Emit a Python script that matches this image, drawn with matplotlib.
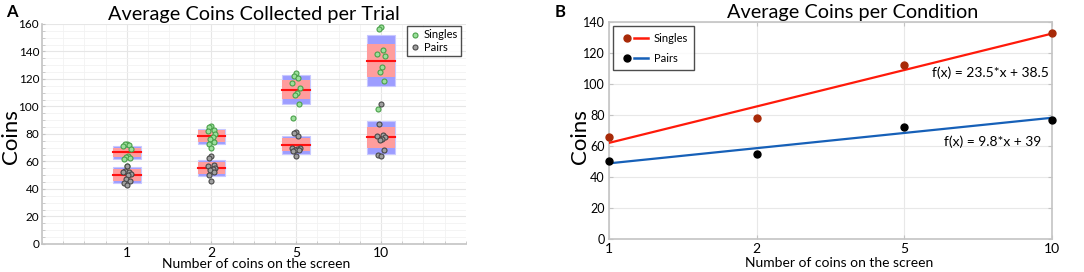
import matplotlib
matplotlib.use("Agg")
import matplotlib.pyplot as plt
from matplotlib.lines import Line2D
from matplotlib.legend_handler import HandlerTuple
from matplotlib.ticker import MultipleLocator
import numpy as np

plt.rcParams['font.family'] = ['Lato', 'DejaVu Sans']

# ---- data: panel A (trial values per condition) ----
conditions = ['1', '2', '5', '10']
singles_trials = [
    [73, 72.5, 72, 71, 69, 64, 63, 62.5, 62, 57],
    [86, 85, 83, 82, 80, 78, 76, 74, 73, 69.5],
    [124.5, 122.5, 121, 117, 113.5, 110, 108.5, 101.5, 91.5],
    [157.5, 156, 141, 138, 137, 128.5, 125, 118.5, 98],
]
pairs_trials = [
    [57, 53, 52.5, 52, 51, 50, 47, 45.5, 44.5, 43],
    [64, 62.5, 57.5, 57, 55.5, 54.5, 53.5, 52, 50, 45.5],
    [81.5, 80.5, 78.5, 70, 69.5, 69, 68.5, 68, 67.5, 64],
    [102, 87.5, 79.5, 78.5, 78, 76.5, 75.5, 68.5, 65, 64],
]
# box summaries: mean, SD half-height, 95% CI half-height
singles_mean = [66.7, 78.3, 112.2, 133.3]
singles_sd = [4.85, 5.45, 10.7, 18.6]
singles_ci = [3.35, 4.25, 6.9, 11.9]
pairs_mean = [50.4, 55.1, 72.2, 77.5]
pairs_sd = [5.7, 5.65, 6.45, 11.85]
pairs_ci = [4.25, 4.25, 4.95, 7.5]

# ---- data: panel B (condition averages + linear fits) ----
singles_avg = [66, 78, 112, 133]
pairs_avg = [50, 55, 72, 77]
singles_fit = (23.5, 38.5)
pairs_fit = (9.8, 39)

fig = plt.figure(figsize=(10.84, 2.72), dpi=100)
axA = fig.add_axes([0.0387, 0.103, 0.391, 0.809])
axB = fig.add_axes([0.5618, 0.1213, 0.4087, 0.798])

spine_col = '#c4c4c4'
box_w = 0.33
jit = [0.0, -0.025, 0.025, -0.045, 0.045, 0.012, -0.012, 0.035, -0.035, 0.0]

pos = np.arange(1, len(conditions) + 1)
for i, p in enumerate(pos):
    for mean, sd, ci, pts, fc, ec in [
        (singles_mean[i], singles_sd[i], singles_ci[i], singles_trials[i], '#9be09b', '#4aa04a'),
        (pairs_mean[i], pairs_sd[i], pairs_ci[i], pairs_trials[i], '#a0a0a0', '#484848'),
    ]:
        axA.bar(p, 2 * sd, bottom=mean - sd, width=box_w, color='#9d9dff',
                edgecolor='#c8c8ff', linewidth=0.8, zorder=2)
        axA.bar(p, 2 * ci, bottom=mean - ci, width=box_w, color='#ff9d9d',
                linewidth=0, zorder=3)
        axA.plot([p - box_w / 2, p + box_w / 2], [mean, mean], color='#ff1010',
                 lw=1.5, zorder=4)
        xs = [p + jit[k % len(jit)] for k in range(len(pts))]
        axA.plot(xs, pts, 'o', ms=3.6, mfc=fc, mec=ec, mew=0.8, zorder=5)

h_s = Line2D([], [], ls='none', marker='o', ms=3.6, mfc='#9be09b', mec='#4aa04a', mew=0.8)
h_p = Line2D([], [], ls='none', marker='o', ms=3.6, mfc='#a0a0a0', mec='#484848', mew=0.8)
legA = axA.legend([h_s, h_p], ['Singles', 'Pairs'], loc='upper right',
                  bbox_to_anchor=(0.995, 1.0), fontsize=8, frameon=True, fancybox=False,
                  handlelength=0.8, handletextpad=0.4, borderpad=0.3, labelspacing=0.15,
                  borderaxespad=0.2)
legA.get_frame().set_edgecolor('#202020')
legA.get_frame().set_linewidth(1.0)

axA.set_xlim(0, 5)
axA.set_ylim(0, 160)
axA.set_xticks(pos)
axA.set_xticklabels(conditions, fontsize=10)
axA.yaxis.set_major_locator(MultipleLocator(20))
axA.yaxis.set_minor_locator(MultipleLocator(5))
axA.xaxis.set_minor_locator(MultipleLocator(0.25))
axA.tick_params(axis='y', labelsize=8.5)
axA.tick_params(which='both', direction='in', length=2, color=spine_col, pad=2)
axA.grid(which='major', color='#e6e6e6', lw=0.8)
axA.grid(which='minor', color='#f2f2f2', lw=0.6)
axA.set_axisbelow(True)
for s in ['top', 'right']:
    axA.spines[s].set_visible(False)
for s in ['left', 'bottom']:
    axA.spines[s].set_color(spine_col)
    axA.spines[s].set_linewidth(1.2)
axA.set_title('Average Coins Collected per Trial', fontsize=14.3, pad=3)
axA.set_ylabel('Coins', fontsize=16)
axA.yaxis.set_label_coords(-0.05, 0.486)
axA.set_xlabel('Number of coins on the screen', fontsize=10)
axA.xaxis.set_label_coords(0.505, -0.062)

# ---- panel B ----
xb = np.arange(1, len(conditions) + 1)
fit_s = [singles_fit[0] * x + singles_fit[1] for x in xb]
fit_p = [pairs_fit[0] * x + pairs_fit[1] for x in xb]
axB.plot(xb, fit_s, color='#ff1a0a', lw=1.6, zorder=3)
axB.plot(xb, fit_p, color='#1660b8', lw=1.6, zorder=3)
axB.plot(xb, singles_avg, 'o', color='#a82a08', ms=5, zorder=4, clip_on=False)
axB.plot(xb, pairs_avg, 'o', color='black', ms=5, zorder=4, clip_on=False)

axB.text(3.19, 107, 'f(x) = %g*x + %g' % singles_fit, fontsize=10, va='center')
axB.text(3.27, 62.5, 'f(x) = %g*x + %g' % pairs_fit, fontsize=10, va='center')

hs_dot = Line2D([], [], ls='none', marker='o', color='#a82a08', ms=5)
hs_line = Line2D([], [], color='#ff1a0a', lw=1.8)
hp_dot = Line2D([], [], ls='none', marker='o', color='black', ms=5)
hp_line = Line2D([], [], color='#1660b8', lw=1.8)
legB = axB.legend([(hs_dot, hs_line), (hp_dot, hp_line)], ['Singles', 'Pairs'],
                  handler_map={tuple: HandlerTuple(ndivide=None, pad=0)},
                  loc='upper left', fontsize=8, fancybox=False, frameon=True,
                  handlelength=2.6, handletextpad=0.5, borderpad=0.55, labelspacing=0.85,
                  borderaxespad=0.4)
legB.get_frame().set_edgecolor('#202020')
legB.get_frame().set_linewidth(1.0)

axB.set_xlim(1, 4)
axB.set_ylim(0, 140)
axB.set_xticks(xb)
axB.set_xticklabels(conditions, fontsize=10)
axB.yaxis.set_major_locator(MultipleLocator(20))
axB.tick_params(axis='y', labelsize=9)
axB.tick_params(direction='in', length=3, color=spine_col, right=True, top=True, pad=3)
axB.grid(color='#e8e8e8', lw=0.8)
axB.set_axisbelow(True)
for s in axB.spines.values():
    s.set_color(spine_col)
    s.set_linewidth(1.2)
axB.set_title('Average Coins per Condition', fontsize=14.3, pad=3, x=0.55)
axB.set_ylabel('Coins', fontsize=16)
axB.yaxis.set_label_coords(-0.043, 0.47)
axB.set_xlabel('Number of coins on the screen', fontsize=10)
axB.xaxis.set_label_coords(0.519, -0.085)

fig.text(0.006, 0.985, 'A', fontsize=12, fontweight='bold', va='top')
fig.text(0.512, 0.985, 'B', fontsize=12, fontweight='bold', va='top')

fig.savefig('out.png', dpi=100)
